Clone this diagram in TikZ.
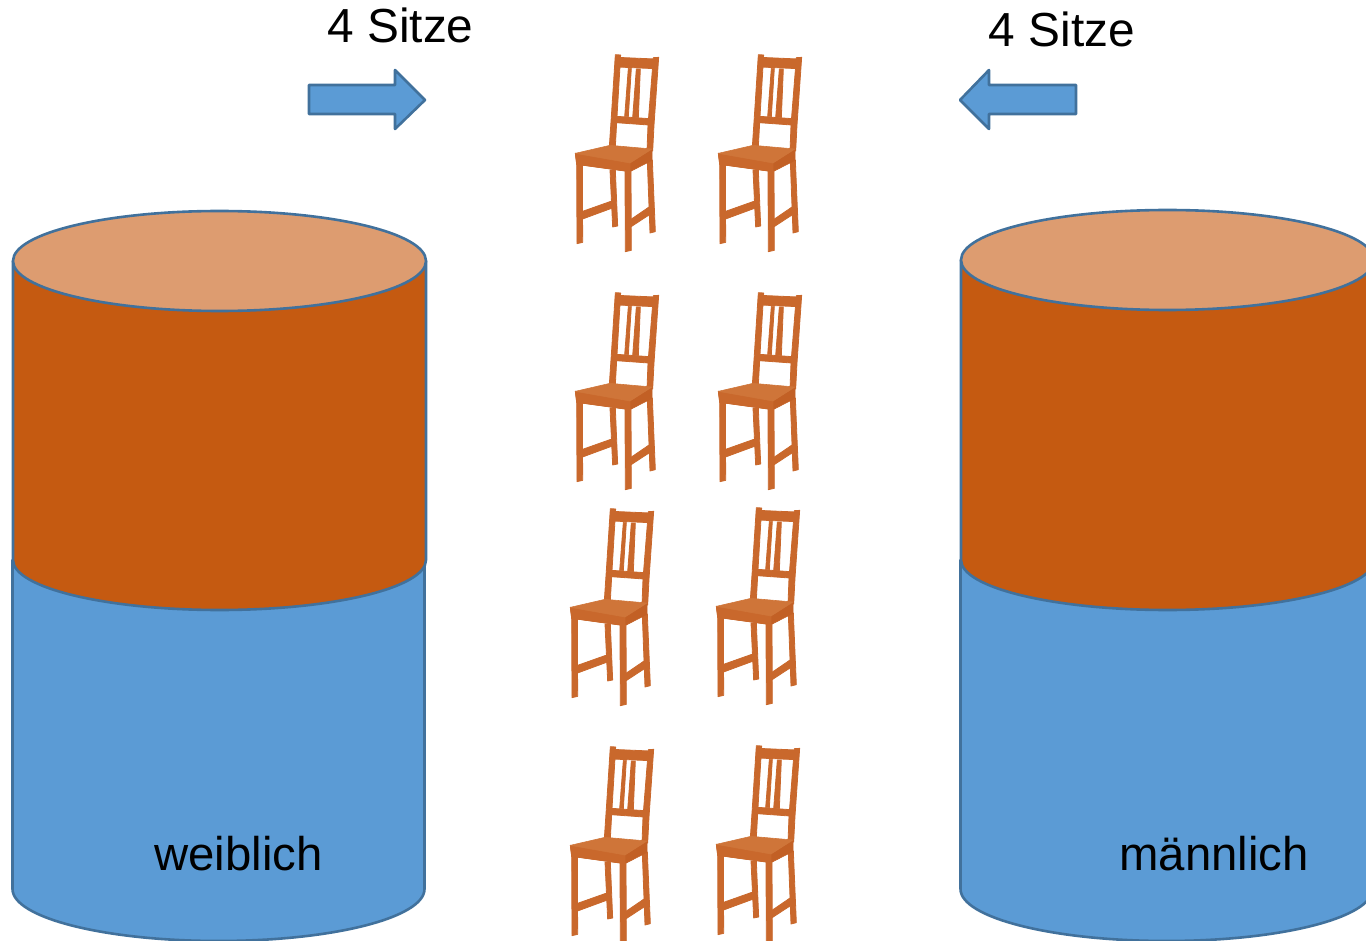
\documentclass[tikz,border=0pt]{standalone}
\usepackage{fontspec}
\setmainfont{Liberation Sans}
\definecolor{fillblue}{HTML}{5B9BD5}
\definecolor{edgeblue}{HTML}{41719C}
\definecolor{rust}{HTML}{C55A11}
\definecolor{sand}{HTML}{DD9C70}
\definecolor{wood}{HTML}{C9682C}
\definecolor{woodlight}{HTML}{CF7539}
\definecolor{wooddark}{HTML}{C26025}
\tikzset{
  outlined/.style={draw=edgeblue,line width=2.6pt,line join=round},
  caption/.style={font=\fontsize{47.8}{50}\selectfont,anchor=base,inner sep=0pt,text=black},
  captionlow/.style={font=\fontsize{47.3}{50}\selectfont,anchor=base,inner sep=0pt,text=black},
  part/.style={fill=wood,draw=wood,line width=0.8pt,line join=round},
  partlight/.style={fill=woodlight,draw=woodlight,line width=0.6pt,line join=round},
  partdark/.style={fill=wooddark,draw=wooddark,line width=0.6pt,line join=round},
  chairpic/.pic={
    % rear legs and stretchers
    \path[part] (150,375)--(166,375)--(173,543)--(158,546)--cycle;
    \path[part] (262,350)--(277,345)--(286,560)--(270,564)--cycle;
    \path[part] (65,500)--(158,467)--(160,488)--(65,523)--cycle;
    \path[part] (210,525)--(270,484)--(270,508)--(212,546)--cycle;
    % back posts, rails and slats
    \path[part] (166,29)--(182,30)--(171,215)--(166,305)--(148,305)--(154,215)--cycle;
    \path[part] (280,38)--(296,37)--(282,240)--(278,318)--(261,318)--(264,240)--cycle;
    \path[part] (170,37)--(285,42)--(285,71)--(172,66)--cycle;
    \path[part] (205,70)--(214,70)--(205,215)--(194,215)--cycle;
    \path[part] (229,72)--(241,72)--(235,218)--(218,218)--cycle;
    \path[part] (170,214)--(268,221)--(266,240)--(168,233)--cycle;
    % seat
    \path[partdark] (46,325)--(210,354)--(276,312)--(276,346)--(210,380)--(50,358)--cycle;
    \path[part] (46,325)--(210,354)--(210,380)--(50,358)--cycle;
    \path[partlight] (46,325)--(150,301)--(276,312)--(210,354)--cycle;
    % front legs
    \path[part] (50,345)--(67,350)--(68,592)--(51,596)--cycle;
    \path[part] (195,378)--(213,378)--(214,616)--(196,620)--cycle;
  }
}
\begin{document}
\begin{tikzpicture}[x=1pt,y=-1pt]
  \useasboundingbox (0,0) rectangle (1366,941);
  \clip (0,0) rectangle (1366,941);

  % left cylinder
  \path[fill=fillblue,outlined] (12.5,560) -- (12.5,889) arc[start angle=180,end angle=360,x radius=206,y radius=-52] -- (424.5,560) -- cycle;
  \path[fill=rust,outlined] (13,261) -- (13,560) arc[start angle=180,end angle=360,x radius=206.5,y radius=-50] -- (426,261) -- cycle;
  \path[fill=sand,outlined] (219.5,261) ellipse[x radius=206.5,y radius=50];

  % right cylinder
  \path[fill=fillblue,outlined] (960.5,560) -- (960.5,889) arc[start angle=180,end angle=360,x radius=206,y radius=-52] -- (1372.5,560) -- cycle;
  \path[fill=rust,outlined] (961,260) -- (961,560) arc[start angle=180,end angle=360,x radius=206.5,y radius=-50] -- (1374,260) -- cycle;
  \path[fill=sand,outlined] (1167.5,260) ellipse[x radius=206.5,y radius=50];

  % entry arrows
  \path[fill=fillblue,outlined] (309,85)--(395,85)--(395,70)--(425,100)--(395,129)--(395,114)--(309,114)--cycle;
  \path[fill=fillblue,outlined] (1076,85)--(989,85)--(989,70)--(960,100)--(989,129)--(989,114)--(1076,114)--cycle;

  % labels
  \node[caption] (seatsleft) at (400.5,43) {4 Sitze};
  \node[caption] (seatsright) at (1062,47) {4 Sitze};
  \node[captionlow] (female) at (238.5,870) {weiblich};
  \node[captionlow] (male) at (1214,870) {männlich};

  % rows of chairs
  \pic[scale=1/3] at (560,45) {chairpic};
  \pic[scale=1/3] at (703,45) {chairpic};
  \pic[scale=1/3] at (560,283) {chairpic};
  \pic[scale=1/3] at (703,283) {chairpic};
  \pic[scale=1/3] at (555,499) {chairpic};
  \pic[scale=1/3] at (701,498) {chairpic};
  \pic[scale=1/3] at (555,737) {chairpic};
  \pic[scale=1/3] at (701,736) {chairpic};
\end{tikzpicture}
\end{document}
